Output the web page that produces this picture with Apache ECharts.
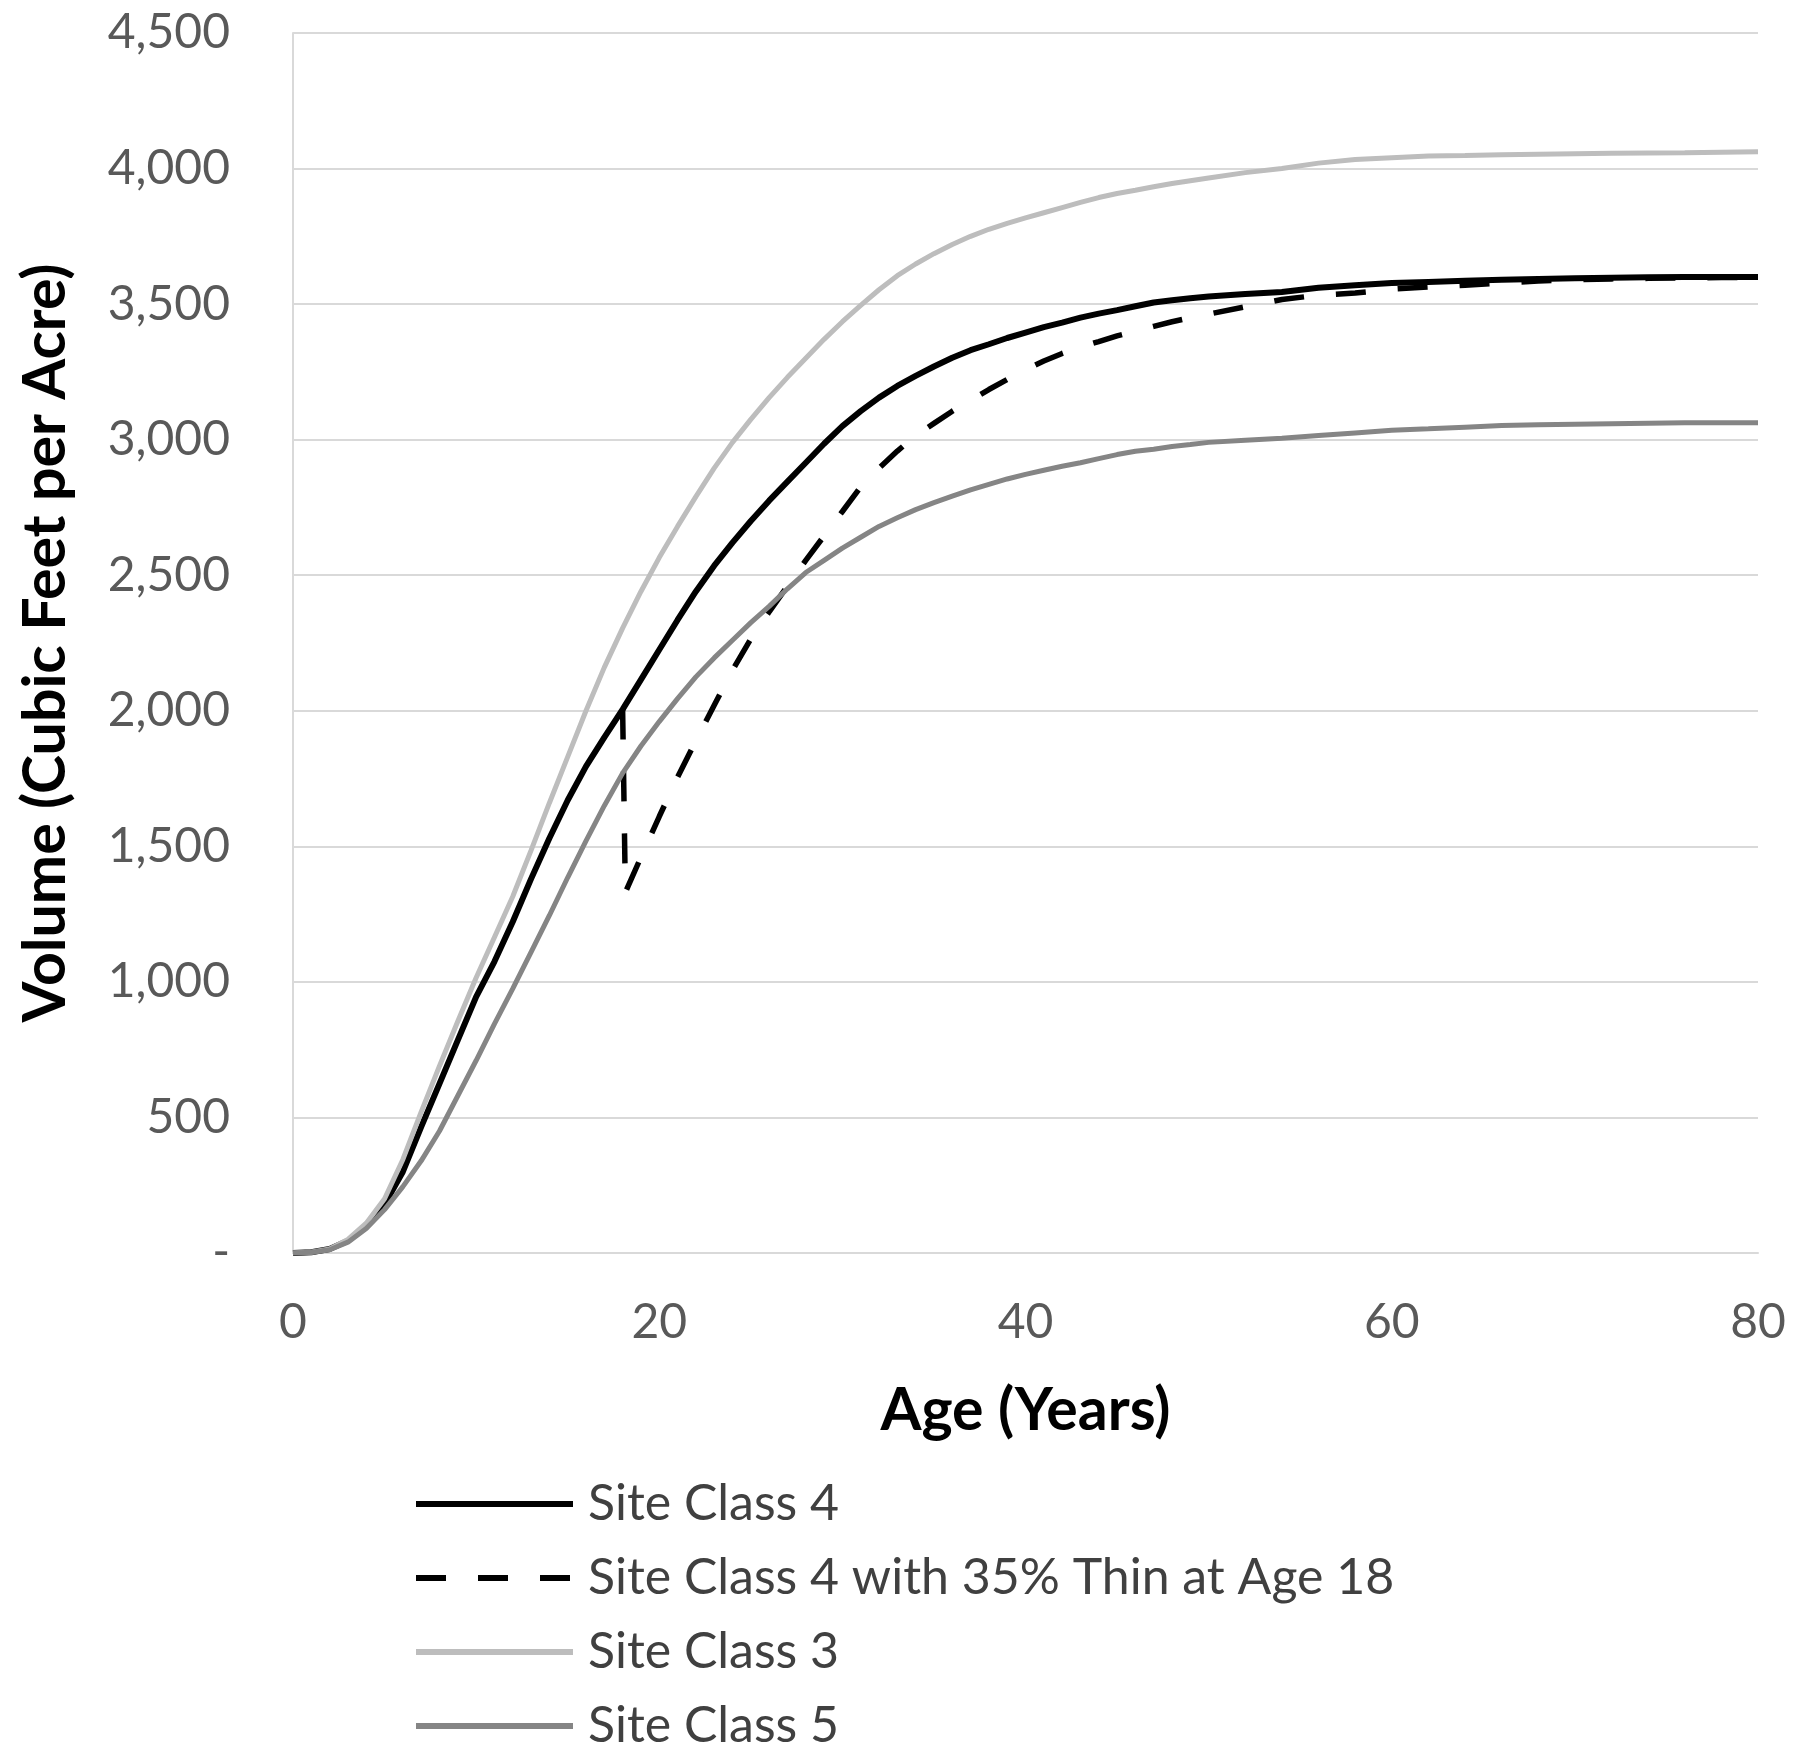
<!DOCTYPE html>
<html>
<head>
<meta charset="utf-8">
<script src="https://cdn.jsdelivr.net/npm/echarts@6/dist/echarts.min.js"></script>
<style>
  html, body { margin: 0; padding: 0; background: #ffffff; }
  #chart { width: 1800px; height: 1760px; }
</style>
</head>
<body>
<div id="chart"></div>
<script>
// Shared ages (years)
const ages = [0,1,2,3,4,5,6,7,8,9,10,11,12,13,14,15,16,17,18,19,20,21,22,23,24,25,26,27,28,29,30,
  31,32,33,34,35,36,37,38,39,40,41,42,43,44,45,46,47,48,49,50,
  52,54,56,58,60,62,64,66,68,70,72,74,76,78,80];

// Site Class 4
const siteClass4 = [0,3,15,45,100,180,300,465,625,785,945,1075,1222,1380,1530,1670,1795,1902,2005,2115,2225,2335,2440,2535,2620,2700,2775,2845,2915,2985,3050,
  3105,3155,3198,3235,3270,3302,3330,3352,3375,3395,3415,3432,3450,3465,3478,3492,3506,3514,3522,3528,
  3537,3545,3560,3570,3578,3582,3586,3590,3593,3595,3597,3599,3600,3600,3600];

// Site Class 3
const siteClass3 = [0,3,15,50,110,200,345,520,690,855,1015,1165,1315,1485,1660,1830,2000,2160,2305,2440,2565,2680,2790,2895,2990,3075,3155,3230,3300,3370,3435,
  3495,3553,3605,3648,3686,3720,3750,3776,3798,3818,3837,3856,3875,3893,3908,3920,3933,3945,3955,3965,
  3985,4000,4020,4033,4040,4046,4048,4051,4053,4055,4056,4057,4058,4060,4062];

// Site Class 5
const siteClass5 = [0,3,12,40,90,160,245,340,450,580,710,845,975,1110,1245,1385,1520,1650,1770,1870,1960,2045,2125,2195,2260,2325,2385,2450,2510,2555,2600,
  2640,2680,2712,2742,2768,2792,2815,2835,2855,2872,2887,2902,2915,2930,2945,2957,2965,2975,2982,2990,
  2998,3005,3015,3025,3035,3040,3046,3052,3055,3057,3059,3061,3062,3062,3062];

// Site Class 4 with 35% thin at age 18
const thinAges = [18,18.15,19,20,21,22,23,24,25,26,27,28,29,30,31,32,33,34,35,36,37,38,39,40,41,42,43,44,45,46,47,48,49,50,
  52,54,56,58,60,62,64,66,68,70,72,74,76,78,80];
const siteClass4Thin = [2005,1330,1460,1610,1755,1890,2020,2150,2265,2365,2460,2555,2645,2735,2826,2895,2958,3015,3060,3105,3145,3185,3222,3258,3290,3318,3342,3362,3383,3400,3418,3435,3450,3463,
  3490,3517,3533,3541,3555,3563,3570,3578,3585,3590,3593,3595,3597,3598,3598];

const xTicks = [0, 20, 40, 60, 80];
const seriesNames = ['Site Class 4', 'Site Class 4 with 35% Thin at Age 18', 'Site Class 3', 'Site Class 5'];
const seriesColors = ['#000000', '#000000', '#bdbdbd', '#858585'];
const seriesWidths = [6, 5.5, 5, 5];
const legendWidths = [6, 6, 6, 6];
const DASH = [30, 32];

const pairs = (xs, ys) => xs.map((x, i) => [x, ys[i]]);

const FONT = 'Lato, "Open Sans", sans-serif';
const chart = echarts.init(document.getElementById('chart'), null, { renderer: 'canvas' });

function lineSeries(i, xs, ys, dashed) {
  return {
    name: seriesNames[i], type: 'line', data: pairs(xs, ys),
    showSymbol: false, symbol: 'none', smooth: false,
    lineStyle: { color: seriesColors[i], width: seriesWidths[i], type: dashed ? DASH : 'solid' },
    itemStyle: { color: seriesColors[i] }, z: 3
  };
}

chart.setOption({
  animation: false,
  backgroundColor: '#ffffff',
  grid: { left: 293, right: 42, top: 33, bottom: 507, containLabel: false },
  xAxis: {
    type: 'value', min: 0, max: 80, interval: 20,
    name: 'Age (Years)', nameLocation: 'middle', nameGap: 128,
    nameTextStyle: { fontFamily: FONT, fontSize: 59, fontWeight: 'bold', color: '#000000' },
    axisLine: { show: true, lineStyle: { color: '#d9d9d9', width: 2 } },
    axisTick: { show: false },
    splitLine: { show: false },
    axisLabel: {
      margin: 46, fontFamily: FONT, fontSize: 48, color: '#595959',
      formatter: v => xTicks.includes(v) ? String(v) : ''
    }
  },
  yAxis: {
    type: 'value', min: 0, max: 4500, interval: 500,
    name: 'Volume (Cubic Feet per Acre)', nameLocation: 'middle', nameGap: 218, nameRotate: 90,
    nameTextStyle: { fontFamily: FONT, fontSize: 59, fontWeight: 'bold', color: '#000000' },
    axisLine: { show: true, lineStyle: { color: '#d9d9d9', width: 2 } },
    axisTick: { show: false },
    splitLine: { show: true, lineStyle: { color: '#d9d9d9', width: 2 } },
    axisLabel: {
      margin: 63, fontFamily: FONT, fontSize: 48, color: '#595959',
      formatter: v => v === 0 ? '-' : v.toLocaleString('en-US')
    }
  },
  legend: {
    show: true, orient: 'vertical', left: 413, top: 1476, padding: 0,
    itemWidth: 157, itemHeight: 20, itemGap: 18,
    itemStyle: { opacity: 0 },
    data: seriesNames.map((n, i) => ({
      name: n,
      itemStyle: { opacity: 0 },
      lineStyle: { color: seriesColors[i], width: legendWidths[i], type: i === 1 ? DASH : 'solid', opacity: 1 }
    })),
    textStyle: { fontFamily: FONT, fontSize: 50, color: '#404040', lineHeight: 56, padding: [0, 0, 0, 10] }
  },
  series: [
    lineSeries(0, ages, siteClass4, false),
    lineSeries(1, thinAges, siteClass4Thin, true),
    lineSeries(2, ages, siteClass3, false),
    lineSeries(3, ages, siteClass5, false)
  ]
});
</script>
</body>
</html>
